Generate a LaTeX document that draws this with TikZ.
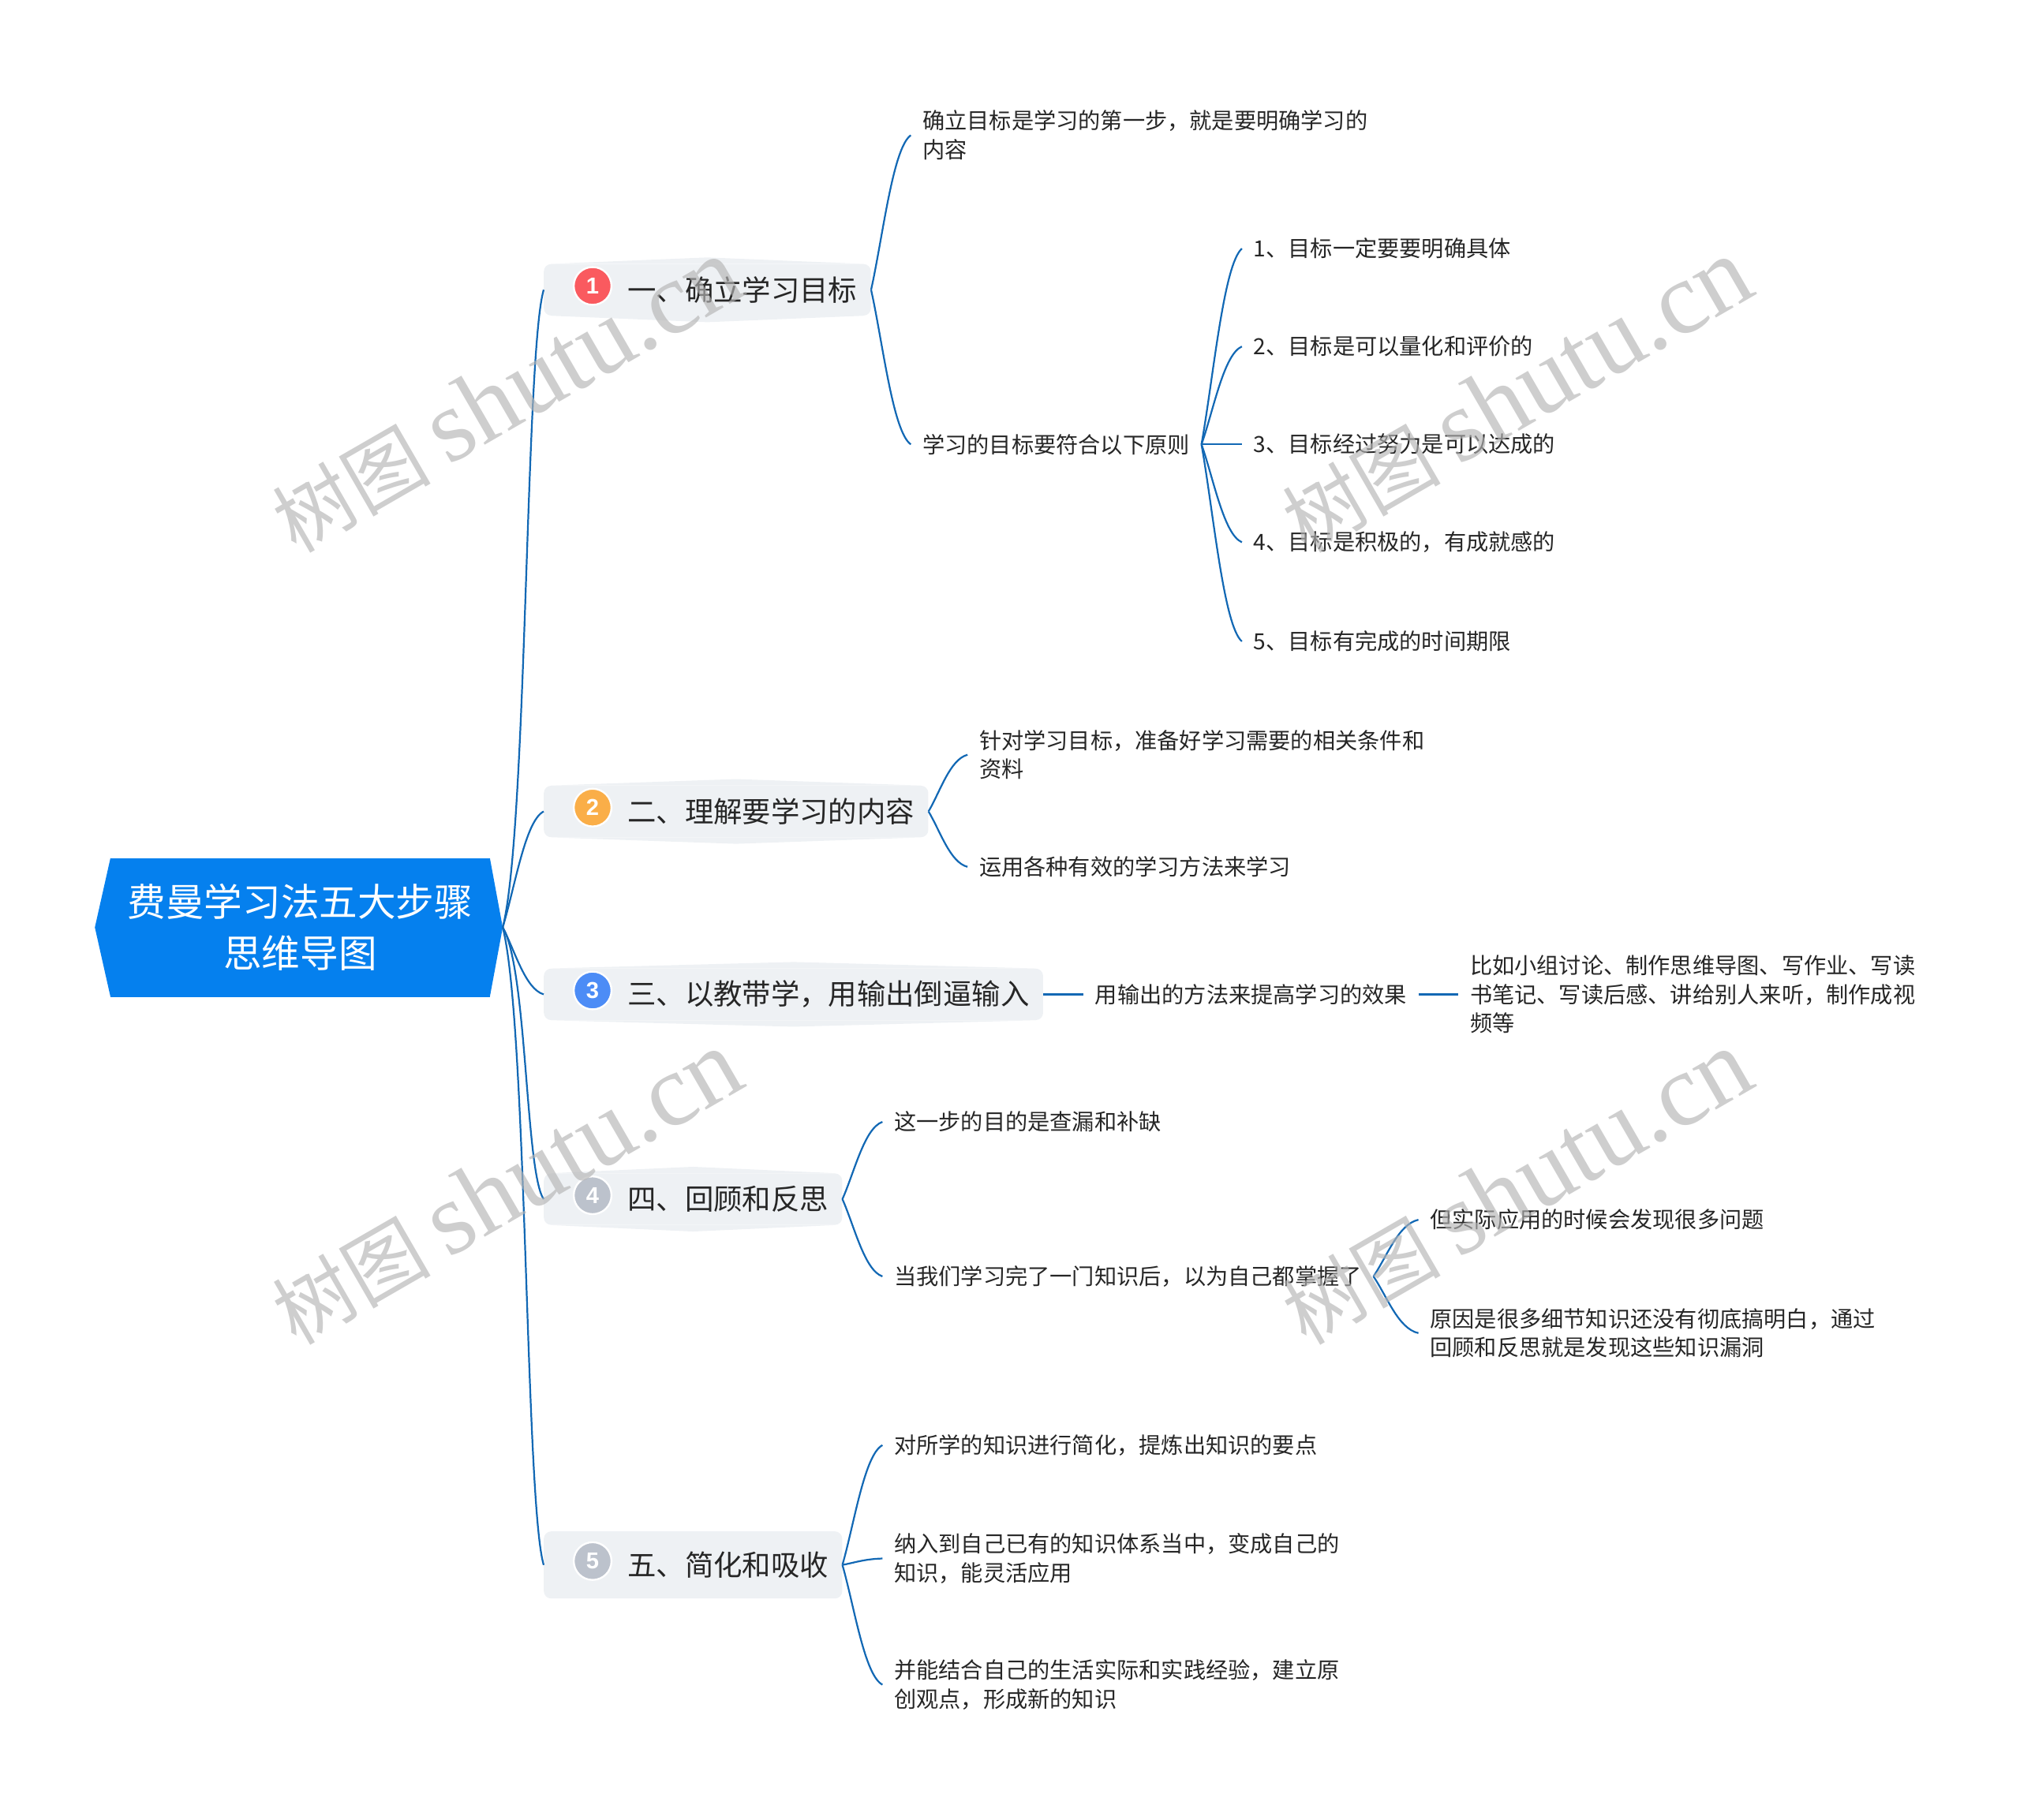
\documentclass[tikz,border=0pt]{standalone}
\usepackage{fontspec}
\setmainfont{Noto Sans CJK SC}
\newfontfamily\wmfont{Liberation Serif}
\newfontfamily\badgefont{Liberation Sans}
\usetikzlibrary{calc}
\definecolor{rootblue}{HTML}{0580EE}
\definecolor{linkblue}{HTML}{1268B4}
\definecolor{bfill}{HTML}{EEF1F4}
\definecolor{ink}{HTML}{262626}
\definecolor{wmgrey}{HTML}{B4B4B4}
\definecolor{redb}{HTML}{FA5A5F}
\definecolor{orangeb}{HTML}{FAAE48}
\definecolor{blueb}{HTML}{4C8CF6}
\definecolor{greyb}{HTML}{BCC2CC}
\tikzset{%
  rootnode/.style = {fill=rootblue,text=white,align=center,inner sep=0pt,
        minimum width=412pt,minimum height=151pt,
        font=\fontsize{41.7pt}{56pt}\selectfont},
  branch/.style = {fill=bfill,text=ink,anchor=west,rounded corners=8pt,
        inner xsep=15pt,inner ysep=0pt,minimum height=56pt,
        execute at begin node=\hspace*{76pt},
        font=\fontsize{31.2pt}{40pt}\selectfont},
  leaf/.style = {text=ink,anchor=west,align=left,inner xsep=12.6pt,inner ysep=0pt,
        font=\fontsize{24.2pt}{31.5pt}\selectfont},
  badge/.style = {circle,draw=white,line width=2pt,text=white,inner sep=0pt,
        minimum size=41pt,font=\badgefont\bfseries\fontsize{25pt}{25pt}\selectfont},
  wmark/.style = {text=wmgrey,opacity=.65,rotate=30,inner sep=0pt},
  link/.style = {draw=linkblue,line width=1.9pt,to path={let \p1=(\tikztostart),\p2=(\tikztotarget) in
        .. controls ({\x1+.3*(\x2-\x1)},{\y1+.35*(\y2-\y1)}) and ({\x1+.55*(\x2-\x1)},{\y1+.92*(\y2-\y1)}) .. (\tikztotarget)}},
  longlink/.style = {draw=linkblue,line width=1.9pt,to path={let \p1=(\tikztostart),\p2=(\tikztotarget) in
        .. controls ({\x1+.6*(\x2-\x1)},{\y1+.15*(\y2-\y1)}) and ({\x1+.55*(\x2-\x1)},{\y1+.9*(\y2-\y1)}) .. (\tikztotarget)}}
}
\newcommand{\bcap}[1]{%
  \fill[bfill] ([xshift=8pt]#1.north west) -- ([yshift=7pt]#1.north) -- ([xshift=-8pt]#1.north east) -- cycle;
  \fill[bfill] ([xshift=8pt]#1.south west) -- ([yshift=-7pt]#1.south) -- ([xshift=-8pt]#1.south east) -- cycle;}

\begin{document}
\begin{tikzpicture}[x=0.04923cm,y=-0.04923cm]
    \useasboundingbox (0,0) rectangle (1568,1413);
    \node[rootnode] (root) at (233,720) {费曼学习法五大步骤\\思维导图};
    \fill[rootblue] (root.north west) -- ([xshift=-17pt]root.west) -- (root.south west) -- cycle;
    \fill[rootblue] (root.north east) -- ([xshift=14pt]root.east) -- (root.south east) -- cycle;
    \coordinate (tip) at ([xshift=14pt]root.east);

    \node[branch] (b1) at (422,225) {一、确立学习目标};
    \node[branch] (b2) at (422,630) {二、理解要学习的内容};
    \node[branch] (b3) at (422,772) {三、以教带学，用输出倒逼输入};
    \node[branch] (b4) at (422,931) {四、回顾和反思};
    \node[branch,minimum height=73pt] (b5) at (422,1215) {五、简化和吸收};
    \bcap{b1} \bcap{b2} \bcap{b3} \bcap{b4}
    \node[badge,fill=redb] (n1) at (460,222) {1};
    \node[badge,fill=orangeb] (n2) at (460,627) {2};
    \node[badge,fill=blueb] (n3) at (460,769) {3};
    \node[badge,fill=greyb] (n4) at (460,928) {4};
    \node[badge,fill=greyb] (n5) at (460,1212) {5};

    \node[leaf] (a1) at (707,105) {确立目标是学习的第一步，就是要明确学习的\\内容};
    \node[leaf] (a2) at (707,345) {学习的目标要符合以下原则};
    \node[leaf] (a21) at (964,193) {1、目标一定要要明确具体};
    \node[leaf] (a22) at (964,269) {2、目标是可以量化和评价的};
    \node[leaf] (a23) at (964,345) {3、目标经过努力是可以达成的};
    \node[leaf] (a24) at (964,421) {4、目标是积极的，有成就感的};
    \node[leaf] (a25) at (964,498) {5、目标有完成的时间期限};
    \node[leaf] (c1) at (751,586) {针对学习目标，准备好学习需要的相关条件和\\资料};
    \node[leaf] (c2) at (751,673) {运用各种有效的学习方法来学习};
    \node[leaf] (d1) at (841,772) {用输出的方法来提高学习的效果};
    \node[leaf] (d2) at (1132,772) {比如小组讨论、制作思维导图、写作业、写读\\书笔记、写读后感、讲给别人来听，制作成视\\频等};
    \node[leaf] (e1) at (685,871) {这一步的目的是查漏和补缺};
    \node[leaf] (e2) at (685,991) {当我们学习完了一门知识后，以为自己都掌握了};
    \node[leaf] (e21) at (1101,947) {但实际应用的时候会发现很多问题};
    \node[leaf] (e22) at (1101,1035) {原因是很多细节知识还没有彻底搞明白，通过\\回顾和反思就是发现这些知识漏洞};
    \node[leaf] (f1) at (685,1122) {对所学的知识进行简化，提炼出知识的要点};
    \node[leaf] (f2) at (685,1210) {纳入到自己已有的知识体系当中，变成自己的\\知识，能灵活应用};
    \node[leaf] (f3) at (685,1308) {并能结合自己的生活实际和实践经验，建立原\\创观点，形成新的知识};

    \path[longlink] (tip) edge (b1.west)
                (tip) edge (b4.west)
                (tip) edge (b5.west);
    \path[link] (tip) edge (b2.west)
                (tip) edge (b3.west)
                (b1.east) edge (a1.west)
                (b1.east) edge (a2.west)
                (a2.east) edge (a21.west)
                (a2.east) edge (a22.west)
                (a2.east) edge (a23.west)
                (a2.east) edge (a24.west)
                (a2.east) edge (a25.west)
                (b2.east) edge (c1.west)
                (b2.east) edge (c2.west)
                (b3.east) edge (d1.west)
                (d1.east) edge (d2.west)
                (b4.east) edge (e1.west)
                (b4.east) edge (e2.west)
                (e2.east) edge (e21.west)
                (e2.east) edge (e22.west)
                (b5.east) edge (f1.west)
                (b5.east) edge (f2.west)
                (b5.east) edge (f3.west);

    \node[wmark] (w1) at (393,307) {\fontsize{86pt}{90pt}\selectfont 树图 \wmfont\fontsize{112pt}{112pt}\selectfont shutu.cn};
    \node[wmark] (w2) at (1177,307) {\fontsize{86pt}{90pt}\selectfont 树图 \wmfont\fontsize{112pt}{112pt}\selectfont shutu.cn};
    \node[wmark] (w3) at (393,922) {\fontsize{86pt}{90pt}\selectfont 树图 \wmfont\fontsize{112pt}{112pt}\selectfont shutu.cn};
    \node[wmark] (w4) at (1177,922) {\fontsize{86pt}{90pt}\selectfont 树图 \wmfont\fontsize{112pt}{112pt}\selectfont shutu.cn};
\end{tikzpicture}
\end{document}
